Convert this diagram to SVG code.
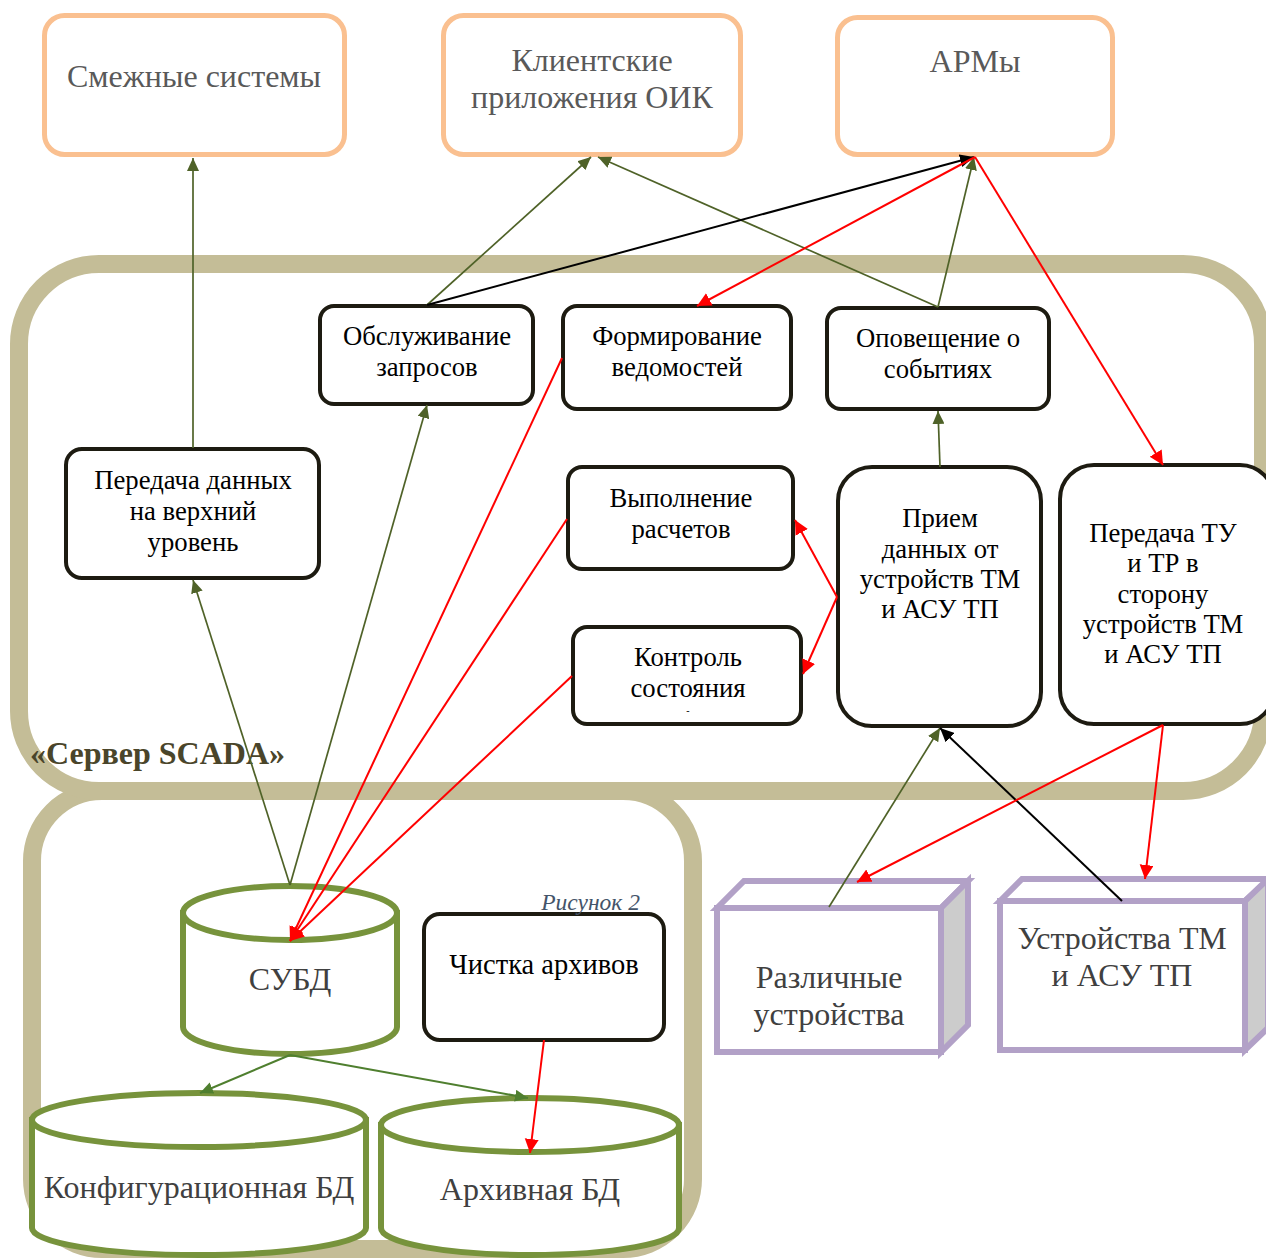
<svg xmlns="http://www.w3.org/2000/svg" width="1266" height="1258" viewBox="0 0 1266 1258">
<style>
.cont{fill:#ffffff;stroke:#c4bd97;stroke-width:18}
.ext{fill:#ffffff;stroke:#fac090;stroke-width:5}
.proc{fill:#ffffff;stroke:#1d1b11;stroke-width:4}
.cyl{fill:#ffffff;stroke:#77933c;stroke-width:6}
.cube{fill:#ffffff;stroke:#b2a1c7;stroke-width:6;stroke-linejoin:miter}
.side{fill:#cccccc;stroke:#b2a1c7;stroke-width:6}
.t{font-family:"Liberation Serif","Times New Roman",serif;text-anchor:middle}
.te{font-size:32px;fill:#595959}
.tp{font-size:26.7px;fill:#000000}
.td{font-size:32px;fill:#404040}
.g{stroke:#4f6228;stroke-width:1.7;fill:none;marker-end:url(#ag)}
.g2{stroke:#4f7f2f;stroke-width:2;fill:none;marker-end:url(#ag2)}
.k{stroke:#000000;stroke-width:2;fill:none;marker-end:url(#ak)}
.r{stroke:#ff0000;stroke-width:2;fill:none;marker-end:url(#ar)}
</style>
<defs>
<marker id="ag" markerUnits="userSpaceOnUse" markerWidth="14" markerHeight="12" refX="13" refY="6" orient="auto"><path d="M0,0 L13,6 L0,12 z" fill="#4f6228"/></marker>
<marker id="ag2" markerUnits="userSpaceOnUse" markerWidth="14" markerHeight="12" refX="13" refY="6" orient="auto"><path d="M0,0 L13,6 L0,12 z" fill="#4f7f2f"/></marker>
<marker id="ak" markerUnits="userSpaceOnUse" markerWidth="15" markerHeight="13" refX="14" refY="6.5" orient="auto"><path d="M0,0 L14,6.5 L0,13 z" fill="#000000"/></marker>
<marker id="ar" markerUnits="userSpaceOnUse" markerWidth="15" markerHeight="15" refX="14" refY="7" orient="auto"><path d="M0,0 L14,7 L0,14 z" fill="#ff0000"/></marker>
</defs>
<rect width="1266" height="1258" fill="#ffffff"/>

<g id="container-db"><rect class="cont" x="32" y="791" width="661" height="458" rx="70" ry="70"/></g>
<g id="container-scada">
<rect class="cont" x="19" y="264" width="1244" height="527" rx="80" ry="80"/>
<text x="30" y="764" font-family="Liberation Serif, serif" font-weight="bold" font-size="32" fill="#4a452a">«Сервер SCADA»</text>
</g>

<g id="smezhnye"><rect class="ext" x="44.5" y="15.5" width="300" height="139" rx="20"/><text class="t te" x="194" y="87">Смежные системы</text></g>
<g id="klient"><rect class="ext" x="443.5" y="15.5" width="297" height="139" rx="20"/><text class="t te" x="592" y="71">Клиентские</text><text class="t te" x="592" y="108">приложения ОИК</text></g>
<g id="arm"><rect class="ext" x="837.5" y="17.5" width="275" height="137" rx="20"/><text class="t te" x="975" y="72">АРМы</text></g>

<g id="obsl"><rect class="proc" x="320" y="306" width="213" height="98" rx="14"/><text class="t tp" x="427" y="345">Обслуживание</text><text class="t tp" x="427" y="376">запросов</text></g>
<g id="form"><rect class="proc" x="563" y="306" width="228" height="103" rx="14"/><text class="t tp" x="677" y="345">Формирование</text><text class="t tp" x="677" y="376">ведомостей</text></g>
<g id="opov"><rect class="proc" x="827" y="308" width="222" height="101" rx="14"/><text class="t tp" x="938" y="347">Оповещение о</text><text class="t tp" x="938" y="378">событиях</text></g>
<g id="peredacha-up"><rect class="proc" x="66" y="449" width="253" height="129" rx="16"/><text class="t tp" x="193" y="489">Передача данных</text><text class="t tp" x="193" y="520">на верхний</text><text class="t tp" x="193" y="551">уровень</text></g>
<g id="vypoln"><rect class="proc" x="568" y="467" width="225" height="102" rx="14"/><text class="t tp" x="681" y="507">Выполнение</text><text class="t tp" x="681" y="538">расчетов</text></g>
<g id="kontrol"><rect class="proc" x="573" y="627" width="228" height="97" rx="14"/><text class="t tp" x="688" y="666">Контроль</text><text class="t tp" x="688" y="697">состояния</text><text class="t" x="688" y="714" font-size="10" fill="#000000">-</text></g>
<g id="priem"><rect class="proc" x="838" y="467" width="203" height="259" rx="34"/><text class="t tp" x="940" y="527">Прием</text><text class="t tp" x="940" y="558">данных от</text><text class="t tp" x="940" y="588">устройств ТМ</text><text class="t tp" x="940" y="618">и АСУ ТП</text></g>
<g id="peredacha-tu"><rect class="proc" x="1060" y="465" width="214" height="259" rx="34"/><text class="t tp" x="1163" y="542">Передача ТУ</text><text class="t tp" x="1163" y="572">и ТР в</text><text class="t tp" x="1163" y="603">сторону</text><text class="t tp" x="1163" y="633">устройств ТМ</text><text class="t tp" x="1163" y="663">и АСУ ТП</text></g>

<g id="subd"><path class="cyl" d="M183,913 L183,1027 A107,27 0 0 0 397,1027 L397,913 Z"/><ellipse class="cyl" cx="290" cy="913" rx="107" ry="27"/><text class="t td" x="290" y="990">СУБД</text></g>
<g id="chistka"><rect class="proc" x="424" y="914" width="240" height="126" rx="16"/><text class="t" x="544" y="974" font-size="28.5" fill="#000000">Чистка архивов</text></g>
<text x="640" y="910" font-family="Liberation Serif, serif" font-style="italic" font-size="23.5" fill="#44546a" text-anchor="end">Рисунок 2</text>
<g id="config-db"><path class="cyl" d="M32,1120 L32,1228 A167,27 0 0 0 366,1228 L366,1120 Z"/><ellipse class="cyl" cx="199" cy="1120" rx="167" ry="27"/><text class="t td" x="199" y="1198">Конфигурационная БД</text></g>
<g id="archive-db"><path class="cyl" d="M381,1125 L381,1228 A149,27 0 0 0 679,1228 L679,1125 Z"/><ellipse class="cyl" cx="530" cy="1125" rx="149" ry="27"/><text class="t td" x="530" y="1200">Архивная БД</text></g>

<g id="razl"><polygon class="cube" points="717,908 744,881 968,881 941,908"/><polygon class="side" points="941,908 968,881 968,1025 941,1052"/><rect class="cube" x="717" y="908" width="224" height="144"/><text class="t td" x="829" y="988">Различные</text><text class="t td" x="829" y="1025">устройства</text></g>
<g id="ustr"><polygon class="cube" points="1000,901 1022,879 1270,879 1245,901"/><polygon class="side" points="1245,901 1268,879 1268,1028 1245,1050"/><rect class="cube" x="1000" y="901" width="245" height="149"/><text class="t td" x="1122" y="949">Устройства ТМ</text><text class="t td" x="1122" y="986">и АСУ ТП</text></g>

<g id="connectors">
<path class="g" d="M193,448 L193,158"/>
<path class="g" d="M427,305 L591,157"/>
<path class="g" d="M938,307 L598,157"/>
<path class="g" d="M938,307 L974,157"/>
<path class="g" d="M940,467 L938,411"/>
<path class="g" d="M290,885 L193,580"/>
<path class="g" d="M290,885 L427,405"/>
<path class="g" d="M829,907 L940,728"/>
<path class="g2" d="M290,1055 L200,1093"/>
<path class="g2" d="M290,1055 L528,1098"/>
<path class="k" d="M427,305 L974,157"/>
<path class="k" d="M1122,901 L940,728"/>
<path class="r" d="M975,157 L697,306"/>
<path class="r" d="M975,157 L1163,465"/>
<path class="r" d="M562,358 L290,941"/>
<path class="r" d="M567,519 L290,941"/>
<path class="r" d="M572,676 L290,941"/>
<path class="r" d="M837,597 L795,520"/>
<path class="r" d="M837,597 L803,674"/>
<path class="r" d="M1163,725 L857,882"/>
<path class="r" d="M1163,725 L1145,879"/>
<path class="r" d="M544,1040 L530,1153"/>
</g>
</svg>
